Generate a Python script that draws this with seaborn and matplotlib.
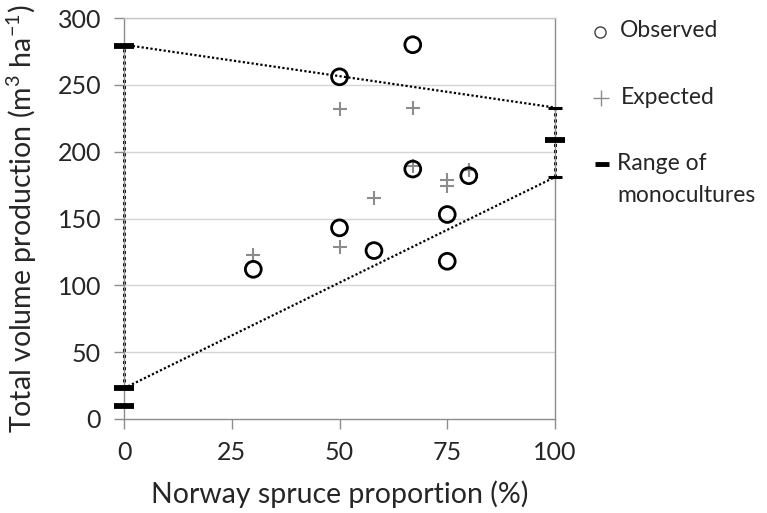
import matplotlib
matplotlib.use("Agg")
import matplotlib.pyplot as plt
import seaborn as sns
import pandas as pd
from matplotlib.lines import Line2D

# ---- data ----
obs_x = [30, 50, 50, 58, 67, 67, 75, 75, 80]
obs_y = [112, 256, 143, 126, 280, 187, 153, 118, 182]
exp_x = [30, 50, 50, 58, 67, 67, 75, 75, 80]
exp_y = [123, 232, 129, 165, 233, 189, 179, 174, 186]
mono_x = [0, 0, 0, 100]
mono_y = [279, 23, 10, 209]
range_x = [0, 100]
range_lo = [23, 181]
range_hi = [280, 233]
x_ticks = [0, 25, 50, 75, 100]
y_ticks = [0, 50, 100, 150, 200, 250, 300]
legend_labels = ['Observed', 'Expected', 'Range of', 'monocultures']

sns.set_style("white")
plt.rcParams['font.family'] = ['Lato', 'DejaVu Sans']
plt.rcParams['mathtext.default'] = 'regular'

W, H = 767, 513
fig = plt.figure(figsize=(W/100, H/100), dpi=100)
ax = fig.add_axes([124/W, 1-419/H, (555-124)/W, (419-18)/H])

# grid
for yv in y_ticks[1:]:
    ax.axhline(yv, color='#d4d4d4', lw=1.0, zorder=0)

dot = (0, (1, 1))
# range lines (dotted)
ax.plot([range_x[0], range_x[1]], [range_hi[0], range_hi[1]], color='black', lw=1.6, ls=dot, zorder=2)
ax.plot([range_x[0], range_x[1]], [range_lo[0], range_lo[1]], color='black', lw=1.6, ls=dot, zorder=2)
ax.plot([range_x[0], range_x[0]], [range_lo[0], range_hi[0]], color='black', lw=2.2, ls=dot, zorder=2, clip_on=False)
ax.plot([range_x[1], range_x[1]], [range_lo[1], range_hi[1]], color='black', lw=2.2, ls=dot, zorder=2, clip_on=False)
# caps at 100
ax.plot([range_x[1], range_x[1]], [range_lo[1], range_hi[1]], ls='none', marker='_', ms=10, mew=2.2,
        color='black', clip_on=False, zorder=3)

df_obs = pd.DataFrame({'x': obs_x, 'y': obs_y})
df_exp = pd.DataFrame({'x': exp_x, 'y': exp_y})
df_mono = pd.DataFrame({'x': mono_x, 'y': mono_y})

sns.scatterplot(data=df_exp, x='x', y='y', marker='+', s=110, color='#8c8c8c', linewidth=1.5, ax=ax, zorder=4)
sns.scatterplot(data=df_obs, x='x', y='y', marker='o', s=130, facecolor='none', edgecolor='black',
                linewidth=2.0, ax=ax, zorder=5)
sns.scatterplot(data=df_mono, x='x', y='y', marker='_', s=220, color='black', linewidth=4.2, ax=ax,
                zorder=6, clip_on=False)

ax.set_xlim(0, 100)
ax.set_ylim(0, 300)
ax.set_xticks(x_ticks)
ax.set_yticks(y_ticks)
ax.tick_params(axis='both', direction='out', length=7.5, width=1, color='#8c8c8c', labelsize=18,
               labelcolor='#262626', left=True, bottom=True)
ax.tick_params(axis='y', pad=9)
ax.tick_params(axis='x', pad=8)
for s in ['left', 'bottom', 'right']:
    ax.spines[s].set_color('#8c8c8c')
    ax.spines[s].set_linewidth(1.0)
ax.spines['top'].set_color('#c8c8c8')
ax.spines['top'].set_linewidth(1.0)

ax.set_xlabel('Norway spruce proportion (%)', fontsize=20.5, color='#262626', labelpad=12)
ax.set_ylabel('Total volume production (m$^3$ ha$^{-1}$)', fontsize=20.5, color='#262626', labelpad=13)

# legend (drawn at fixed figure positions, like the reference)
def fx(px):
    return px / W

def fy(py):
    return 1 - py / H

fig.add_artist(Line2D([fx(600)], [fy(32)], transform=fig.transFigure, ls='none', marker='o', ms=8,
                      mfc='none', mec='#404040', mew=1.0))
fig.add_artist(Line2D([fx(601)], [fy(98)], transform=fig.transFigure, ls='none', marker='+', ms=11,
                      color='#8c8c8c', mew=1.0))
fig.add_artist(Line2D([fx(602)], [fy(164)], transform=fig.transFigure, ls='none', marker='_', ms=10,
                      color='black', mew=3.5))
leg_text_pos = [(620, 31), (621, 98), (617, 164), (617, 196)]
for lab, (px, py) in zip(legend_labels, leg_text_pos):
    fig.text(fx(px), fy(py), lab, fontsize=16.5, color='#262626', ha='left', va='center')

fig.savefig('out.png', dpi=100)
